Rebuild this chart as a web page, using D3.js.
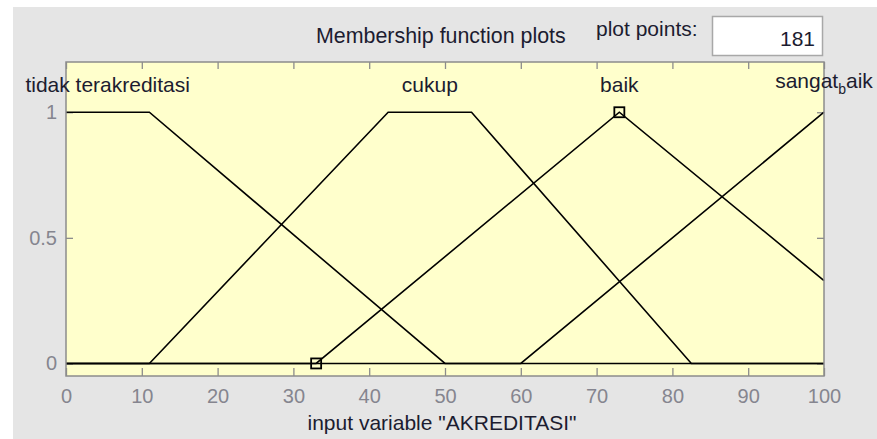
<!DOCTYPE html>
<html>
<head>
<meta charset="utf-8">
<script src="https://cdn.jsdelivr.net/npm/d3@7"></script>
<style>
  body { margin: 0; background: #ffffff; }
  text { font-family: "Liberation Sans", Arial, sans-serif; }
</style>
</head>
<body>
<script>
  // membership functions of input "AKREDITASI", breakpoints
  var mfNames = ["tidak terakreditasi", "cukup", "baik", "sangat baik"];
  var mfTidak = [[0, 1], [11, 1], [50, 0], [100, 0]];
  var mfCukup = [[0, 0], [11, 0], [42.5, 1], [53.5, 1], [82.5, 0], [100, 0]];
  var mfBaik = [[0, 0], [33, 0], [73, 1], [100, 0.33]];
  var mfSangat = [[0, 0], [60, 0], [100, 1]];
  var labelX = [5.5, 48, 73, 100];
  var xTicks = [0, 10, 20, 30, 40, 50, 60, 70, 80, 90, 100];
  var yTicks = [0, 0.5, 1];
  var selectedMarks = [[33, 0], [73, 1]];
  var plotPoints = 181;

  var svg = d3.select("body").append("svg")
            .attr("width", 877)
            .attr("height", 439)

  svg.append("rect")
    .attr("x", 13).attr("y", 7)
    .attr("width", 864).attr("height", 432)
    .attr("fill", "#e5e5e5")

  var xScale = d3.scaleLinear().domain([0, 100]).range([66, 824]);
  var yScale = d3.scaleLinear().domain([-0.05, 1.2]).range([376, 62]);

  // plot area
  svg.append("rect")
    .attr("x", xScale(0)).attr("y", yScale(1.2))
    .attr("width", xScale(100) - xScale(0))
    .attr("height", yScale(-0.05) - yScale(1.2))
    .attr("fill", "#ffffcc")

  // header texts
  svg.append("text")
    .attr("x", 316).attr("y", 43)
    .attr("font-size", 21.4)
    .attr("fill", "#1c1c30")
    .text("Membership function plots")

  svg.append("text")
    .attr("x", 596).attr("y", 36)
    .attr("font-size", 21)
    .attr("fill", "#1c1c30")
    .text("plot points:")

  svg.append("rect")
    .attr("x", 712.5).attr("y", 16.5)
    .attr("width", 110).attr("height", 39)
    .attr("fill", "#ffffff")
    .attr("stroke", "#a8a8a8")
    .attr("stroke-width", 1.5)

  svg.append("text")
    .attr("x", 815).attr("y", 46)
    .attr("text-anchor", "end")
    .attr("font-size", 21)
    .attr("fill", "#1c1c30")
    .text(plotPoints)

  // axes (ticks point inward)
  var xBottom = svg.append("g")
    .attr("transform", "translate(0," + yScale(-0.05) + ")")
    .call(d3.axisBottom(xScale).tickValues(xTicks).tickSize(-8).tickPadding(13).tickFormat(d3.format("d")))
  var xTop = svg.append("g")
    .attr("transform", "translate(0," + yScale(1.2) + ")")
    .call(d3.axisTop(xScale).tickValues(xTicks).tickSize(-7).tickFormat(""))
  var yLeft = svg.append("g")
    .attr("transform", "translate(" + xScale(0) + ",0)")
    .call(d3.axisLeft(yScale).tickValues(yTicks).tickSize(-7).tickPadding(9).tickFormat(d3.format("")))
  var yRight = svg.append("g")
    .attr("transform", "translate(" + xScale(100) + ",0)")
    .call(d3.axisRight(yScale).tickValues(yTicks).tickSize(-7).tickFormat(""))

  svg.selectAll(".domain").remove()
  svg.selectAll(".tick line").attr("stroke", "#8c8c8c").attr("stroke-width", 1.3)
  svg.selectAll(".tick text")
    .attr("font-size", 20)
    .attr("font-family", "Liberation Sans, Arial, sans-serif")
    .attr("fill", "#85858f")

  // membership curves
  var lineFunction = d3.line()
    .x(function(d) { return xScale(d[0]); })
    .y(function(d) { return yScale(d[1]); });

  svg.append("g").selectAll("path")
    .data([mfTidak, mfCukup, mfBaik, mfSangat])
    .enter()
    .append("path")
    .attr("d", lineFunction)
    .attr("fill", "none")
    .attr("stroke", "#000000")
    .attr("stroke-width", 1.6)

  // selected mf markers
  svg.append("g").selectAll("rect")
    .data(selectedMarks)
    .enter()
    .append("rect")
    .attr("x", function(d) { return xScale(d[0]) - 5; })
    .attr("y", function(d) { return yScale(d[1]) - 5; })
    .attr("width", 10)
    .attr("height", 10)
    .attr("fill", "none")
    .attr("stroke", "#000000")
    .attr("stroke-width", 1.8)

  // plot box
  svg.append("rect")
    .attr("x", xScale(0)).attr("y", yScale(1.2))
    .attr("width", xScale(100) - xScale(0))
    .attr("height", yScale(-0.05) - yScale(1.2))
    .attr("fill", "none")
    .attr("stroke", "#8c8c8c")
    .attr("stroke-width", 1.5)

  // mf labels
  var labels = svg.append("g").selectAll("text")
    .data(mfNames)
    .enter()
    .append("text")
    .attr("x", function(d, i) { return xScale(labelX[i]); })
    .attr("y", function(d, i) { return i == 3 ? yScale(1.098) : yScale(1.08); })
    .attr("text-anchor", "middle")
    .attr("font-size", 21)
    .attr("fill", "#1c1c30")

  labels.each(function(d, i) {
    var t = d3.select(this);
    if (i == 3) {
      // shown with tex interpreter: "sangat_baik"
      t.append("tspan").text("sangat");
      t.append("tspan").attr("dy", 6).attr("font-size", 14).text("b");
      t.append("tspan").attr("dy", -6).text("aik");
    } else {
      t.text(d);
    }
  })

  svg.append("text")
    .attr("x", 442).attr("y", 430)
    .attr("text-anchor", "middle")
    .attr("font-size", 21)
    .attr("fill", "#1c1c30")
    .text('input variable "AKREDITASI"')
</script>
</body>
</html>
